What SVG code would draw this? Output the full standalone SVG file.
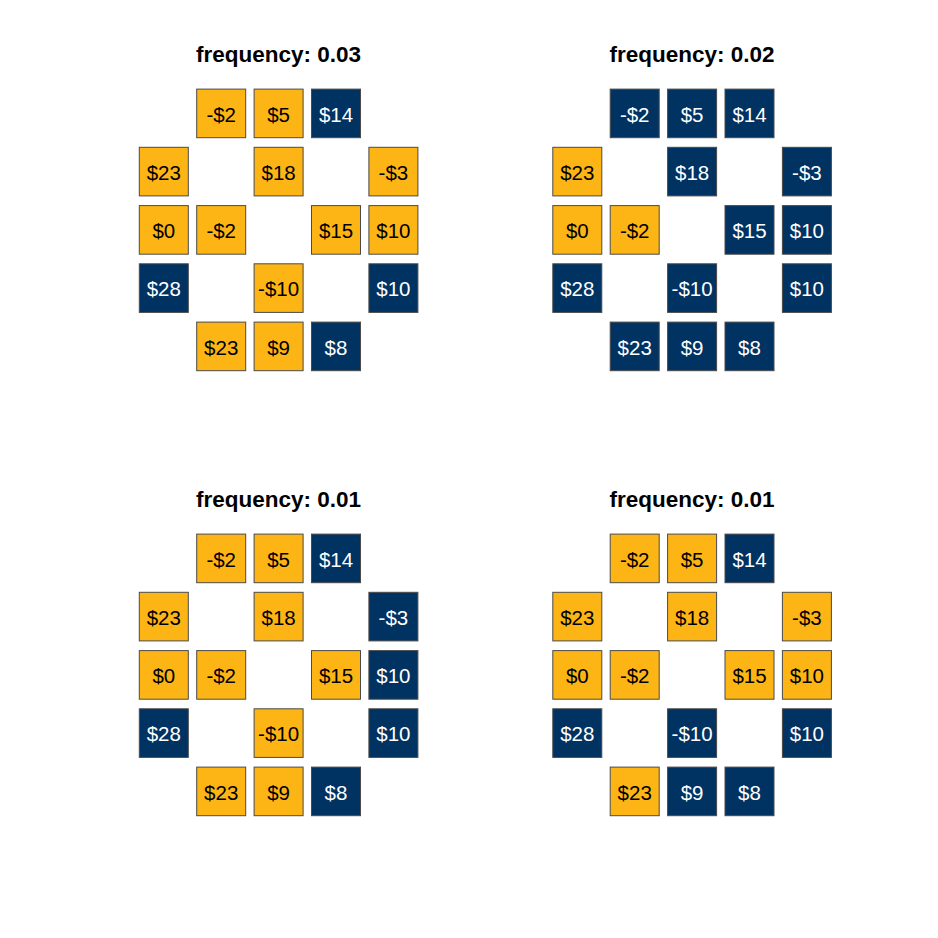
<svg xmlns="http://www.w3.org/2000/svg" width="938" height="938" viewBox="0 0 938 938">
<style>
.y use{fill:#FDB515;stroke:#4a4a4a;stroke-width:1}
.b use{fill:#003262;stroke:#4a4a4a;stroke-width:1}
text{font-family:"Liberation Sans",Arial,sans-serif;text-anchor:middle}
.y text{fill:#000;font-size:20.5px}
.b text{fill:#fff;font-size:20.5px}
.t{font-size:22.5px;font-weight:bold;fill:#000}
</style>
<defs>
<rect id="box" x="-24.5" y="-24.3" width="49" height="48.6"/>
</defs>
<rect width="938" height="938" fill="#fff"/>
<g id="connectors"/>

<g id="panel1">
<text class="t" x="278.6" y="62">frequency: 0.03</text>
<g id="p1n1" class="y" transform="translate(221.2,113.4)"><use href="#box"/><text y="8.3">-$2</text></g>
<g id="p1n2" class="y" transform="translate(278.6,113.4)"><use href="#box"/><text y="8.3">$5</text></g>
<g id="p1n3" class="b" transform="translate(336,113.4)"><use href="#box"/><text y="8.3">$14</text></g>
<g id="p1n4" class="y" transform="translate(163.8,171.6)"><use href="#box"/><text y="8.3">$23</text></g>
<g id="p1n5" class="y" transform="translate(278.6,171.6)"><use href="#box"/><text y="8.3">$18</text></g>
<g id="p1n6" class="y" transform="translate(393.4,171.6)"><use href="#box"/><text y="8.3">-$3</text></g>
<g id="p1n7" class="y" transform="translate(163.8,229.9)"><use href="#box"/><text y="8.3">$0</text></g>
<g id="p1n8" class="y" transform="translate(221.2,229.9)"><use href="#box"/><text y="8.3">-$2</text></g>
<g id="p1n9" class="y" transform="translate(336,229.9)"><use href="#box"/><text y="8.3">$15</text></g>
<g id="p1n10" class="y" transform="translate(393.4,229.9)"><use href="#box"/><text y="8.3">$10</text></g>
<g id="p1n11" class="b" transform="translate(163.8,288.1)"><use href="#box"/><text y="8.3">$28</text></g>
<g id="p1n12" class="y" transform="translate(278.6,288.1)"><use href="#box"/><text y="8.3">-$10</text></g>
<g id="p1n13" class="b" transform="translate(393.4,288.1)"><use href="#box"/><text y="8.3">$10</text></g>
<g id="p1n14" class="y" transform="translate(221.2,346.4)"><use href="#box"/><text y="8.3">$23</text></g>
<g id="p1n15" class="y" transform="translate(278.6,346.4)"><use href="#box"/><text y="8.3">$9</text></g>
<g id="p1n16" class="b" transform="translate(336,346.4)"><use href="#box"/><text y="8.3">$8</text></g>
</g>

<g id="panel2" transform="translate(413.5,0)">
<text class="t" x="278.6" y="62">frequency: 0.02</text>
<g id="p2n1" class="b" transform="translate(221.2,113.4)"><use href="#box"/><text y="8.3">-$2</text></g>
<g id="p2n2" class="b" transform="translate(278.6,113.4)"><use href="#box"/><text y="8.3">$5</text></g>
<g id="p2n3" class="b" transform="translate(336,113.4)"><use href="#box"/><text y="8.3">$14</text></g>
<g id="p2n4" class="y" transform="translate(163.8,171.6)"><use href="#box"/><text y="8.3">$23</text></g>
<g id="p2n5" class="b" transform="translate(278.6,171.6)"><use href="#box"/><text y="8.3">$18</text></g>
<g id="p2n6" class="b" transform="translate(393.4,171.6)"><use href="#box"/><text y="8.3">-$3</text></g>
<g id="p2n7" class="y" transform="translate(163.8,229.9)"><use href="#box"/><text y="8.3">$0</text></g>
<g id="p2n8" class="y" transform="translate(221.2,229.9)"><use href="#box"/><text y="8.3">-$2</text></g>
<g id="p2n9" class="b" transform="translate(336,229.9)"><use href="#box"/><text y="8.3">$15</text></g>
<g id="p2n10" class="b" transform="translate(393.4,229.9)"><use href="#box"/><text y="8.3">$10</text></g>
<g id="p2n11" class="b" transform="translate(163.8,288.1)"><use href="#box"/><text y="8.3">$28</text></g>
<g id="p2n12" class="b" transform="translate(278.6,288.1)"><use href="#box"/><text y="8.3">-$10</text></g>
<g id="p2n13" class="b" transform="translate(393.4,288.1)"><use href="#box"/><text y="8.3">$10</text></g>
<g id="p2n14" class="b" transform="translate(221.2,346.4)"><use href="#box"/><text y="8.3">$23</text></g>
<g id="p2n15" class="b" transform="translate(278.6,346.4)"><use href="#box"/><text y="8.3">$9</text></g>
<g id="p2n16" class="b" transform="translate(336,346.4)"><use href="#box"/><text y="8.3">$8</text></g>
</g>

<g id="panel3" transform="translate(0,445)">
<text class="t" x="278.6" y="62">frequency: 0.01</text>
<g id="p3n1" class="y" transform="translate(221.2,113.4)"><use href="#box"/><text y="8.3">-$2</text></g>
<g id="p3n2" class="y" transform="translate(278.6,113.4)"><use href="#box"/><text y="8.3">$5</text></g>
<g id="p3n3" class="b" transform="translate(336,113.4)"><use href="#box"/><text y="8.3">$14</text></g>
<g id="p3n4" class="y" transform="translate(163.8,171.6)"><use href="#box"/><text y="8.3">$23</text></g>
<g id="p3n5" class="y" transform="translate(278.6,171.6)"><use href="#box"/><text y="8.3">$18</text></g>
<g id="p3n6" class="b" transform="translate(393.4,171.6)"><use href="#box"/><text y="8.3">-$3</text></g>
<g id="p3n7" class="y" transform="translate(163.8,229.9)"><use href="#box"/><text y="8.3">$0</text></g>
<g id="p3n8" class="y" transform="translate(221.2,229.9)"><use href="#box"/><text y="8.3">-$2</text></g>
<g id="p3n9" class="y" transform="translate(336,229.9)"><use href="#box"/><text y="8.3">$15</text></g>
<g id="p3n10" class="b" transform="translate(393.4,229.9)"><use href="#box"/><text y="8.3">$10</text></g>
<g id="p3n11" class="b" transform="translate(163.8,288.1)"><use href="#box"/><text y="8.3">$28</text></g>
<g id="p3n12" class="y" transform="translate(278.6,288.1)"><use href="#box"/><text y="8.3">-$10</text></g>
<g id="p3n13" class="b" transform="translate(393.4,288.1)"><use href="#box"/><text y="8.3">$10</text></g>
<g id="p3n14" class="y" transform="translate(221.2,346.4)"><use href="#box"/><text y="8.3">$23</text></g>
<g id="p3n15" class="y" transform="translate(278.6,346.4)"><use href="#box"/><text y="8.3">$9</text></g>
<g id="p3n16" class="b" transform="translate(336,346.4)"><use href="#box"/><text y="8.3">$8</text></g>
</g>

<g id="panel4" transform="translate(413.5,445)">
<text class="t" x="278.6" y="62">frequency: 0.01</text>
<g id="p4n1" class="y" transform="translate(221.2,113.4)"><use href="#box"/><text y="8.3">-$2</text></g>
<g id="p4n2" class="y" transform="translate(278.6,113.4)"><use href="#box"/><text y="8.3">$5</text></g>
<g id="p4n3" class="b" transform="translate(336,113.4)"><use href="#box"/><text y="8.3">$14</text></g>
<g id="p4n4" class="y" transform="translate(163.8,171.6)"><use href="#box"/><text y="8.3">$23</text></g>
<g id="p4n5" class="y" transform="translate(278.6,171.6)"><use href="#box"/><text y="8.3">$18</text></g>
<g id="p4n6" class="y" transform="translate(393.4,171.6)"><use href="#box"/><text y="8.3">-$3</text></g>
<g id="p4n7" class="y" transform="translate(163.8,229.9)"><use href="#box"/><text y="8.3">$0</text></g>
<g id="p4n8" class="y" transform="translate(221.2,229.9)"><use href="#box"/><text y="8.3">-$2</text></g>
<g id="p4n9" class="y" transform="translate(336,229.9)"><use href="#box"/><text y="8.3">$15</text></g>
<g id="p4n10" class="y" transform="translate(393.4,229.9)"><use href="#box"/><text y="8.3">$10</text></g>
<g id="p4n11" class="b" transform="translate(163.8,288.1)"><use href="#box"/><text y="8.3">$28</text></g>
<g id="p4n12" class="b" transform="translate(278.6,288.1)"><use href="#box"/><text y="8.3">-$10</text></g>
<g id="p4n13" class="b" transform="translate(393.4,288.1)"><use href="#box"/><text y="8.3">$10</text></g>
<g id="p4n14" class="y" transform="translate(221.2,346.4)"><use href="#box"/><text y="8.3">$23</text></g>
<g id="p4n15" class="b" transform="translate(278.6,346.4)"><use href="#box"/><text y="8.3">$9</text></g>
<g id="p4n16" class="b" transform="translate(336,346.4)"><use href="#box"/><text y="8.3">$8</text></g>
</g>
</svg>
